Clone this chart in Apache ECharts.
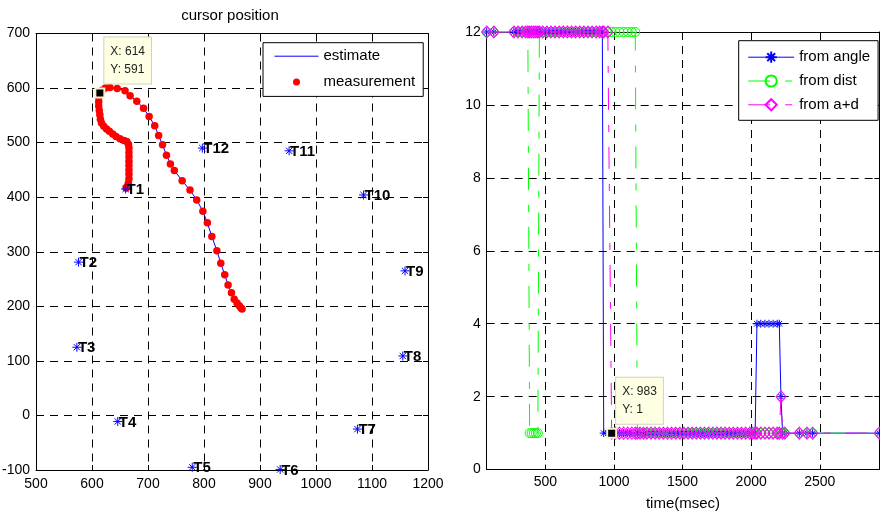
<!DOCTYPE html>
<html>
<head>
<meta charset="utf-8">
<script src="https://cdn.jsdelivr.net/npm/echarts@6/dist/echarts.min.js"></script>
<style>
  html, body { margin: 0; padding: 0; background: #fff; }
  #chart { width: 880px; height: 513px; }
</style>
</head>
<body>
<div id="chart"></div>
<script>
// ---- left panel: cursor position ----
const targetNames = ['T1', 'T2', 'T3', 'T4', 'T5', 'T6', 'T7', 'T8', 'T9', 'T10', 'T11', 'T12'];
const targetX = [660, 576, 573, 646, 779, 936, 1074, 1155, 1159, 1085, 952, 797];
const targetY = [415, 281, 125, -11, -95, -99, -25, 109, 265, 404, 485, 490];

// cursor track (T1 -> up to the datatip -> down the curve)
const trackX = [661, 663, 665, 666, 666, 666, 666, 666, 666, 666, 666,
                665, 662, 657, 650, 643, 637, 631, 626, 621, 617, 615, 614, 613, 612, 612, 612, 613,
                618, 624, 632, 645, 659, 668, 680, 692, 702, 712, 719, 726, 733, 740, 747,
                761, 775, 787, 798, 806, 814, 823, 830, 837, 843, 849, 854, 859, 863, 866, 868];
const trackY = [417, 420, 426, 434, 442, 450, 458, 466, 474, 482, 490,
                497, 502, 504, 507, 511, 516, 521, 525, 530, 536, 543, 551, 559, 567, 575, 583, 591,
                596, 600, 601, 599, 595, 586, 576, 563, 548, 531, 513, 496, 477, 461, 449,
                430, 413, 395, 374, 353, 328, 302, 279, 258, 239, 225, 213, 206, 201, 197, 195];

const leftTip = [614, 591];

// ---- right panel: target index over time ----
const timeMs = [72, 124,
  270, 300, 330, 355, 372, 385, 400, 415, 430, 445, 456, 480, 510, 540, 570, 600, 630, 660,
  690, 720, 750, 780, 810, 840, 870, 895, 915, 925, 955, 983, 1010, 1040, 1070, 1100, 1130, 1155,
  1170, 1190, 1215, 1240, 1270, 1300, 1330, 1360, 1390, 1420, 1450, 1480, 1510, 1540, 1570, 1600,
  1630, 1660, 1690, 1720, 1750, 1780, 1810, 1840, 1870, 1900, 1930, 1960, 1990, 2010, 2029, 2042,
  2070, 2100, 2130, 2160, 2190, 2205, 2217, 2229, 2245, 2351, 2407, 2448, 2934];

const fromAngle = [
  12, 12, 12, 12, 12, 12, 12, 12, 12, 12,
  12, 12, 12, 12, 12, 12, 12, 12, 12, 12,
  12, 12, 12, 12, 12, 12, 12, 12, 12, 1,
  1, 1, 1, 1, 1, 1, 1, 1, 1, 1,
  1, 1, 1, 1, 1, 1, 1, 1, 1, 1,
  1, 1, 1, 1, 1, 1, 1, 1, 1, 1,
  1, 1, 1, 1, 1, 1, 1, 1, 1, 4,
  4, 4, 4, 4, 4, 4, 2, 1, 1, 1,
  1, 1, 1];
const fromDist = [
  12, 12, 12, 12, 12, 12, 12, 1, 1, 1,
  1, 1, 12, 12, 12, 12, 12, 12, 12, 12,
  12, 12, 12, 12, 12, 12, 12, 12, 12, 12,
  12, 12, 12, 12, 12, 12, 12, 12, 1, 1,
  1, 1, 1, 1, 1, 1, 1, 1, 1, 1,
  1, 1, 1, 1, 1, 1, 1, 1, 1, 1,
  1, 1, 1, 1, 1, 1, 1, 1, 1, 1,
  1, 1, 1, 1, 1, 1, 1, 1, 1, 1,
  1, 1, 1];
const fromAD = [
  12, 12, 12, 12, 12, 12, 12, 12, 12, 12,
  12, 12, 12, 12, 12, 12, 12, 12, 12, 12,
  12, 12, 12, 12, 12, 12, 12, 12, 12, 12,
  12, 1, 1, 1, 1, 1, 1, 1, 1, 1,
  1, 1, 1, 1, 1, 1, 1, 1, 1, 1,
  1, 1, 1, 1, 1, 1, 1, 1, 1, 1,
  1, 1, 1, 1, 1, 1, 1, 1, 1, 1,
  1, 1, 1, 1, 1, 1, 2, 1, 1, 1,
  1, 1, 1];

const timeTicks = [500, 1000, 1500, 2000, 2500];
const rightTip = [983, 1];

const FONT = '"Liberation Sans", Arial, Helvetica, sans-serif';
const ASTERISK = 'path://M5,0L5,10M0,5L10,5M1.5,1.5L8.5,8.5M8.5,1.5L1.5,8.5';
const DASHDOT = [22, 15, 7, 15];

function makeAxis(gridIndex, position, min, max, interval, main) {
  return {
    type: 'value',
    gridIndex: gridIndex,
    position: position,
    min: min,
    max: max,
    interval: interval,
    axisLine: { show: true, onZero: false, lineStyle: { color: '#000', width: 1 } },
    axisTick: { show: true, inside: true, length: 5, lineStyle: { color: '#000' } },
    axisLabel: {
      show: main, color: '#000', fontSize: 14, fontFamily: FONT, margin: 6,
      formatter: v => String(v)
    },
    splitLine: main ? { show: true, lineStyle: { color: '#000', width: 1, type: [8, 6] } } : { show: false }
  };
}

function tipSeries(xIdx, yIdx, tip) {
  return {
    type: 'scatter',
    xAxisIndex: xIdx,
    yAxisIndex: yIdx,
    data: [tip],
    symbol: 'rect',
    symbolSize: 9,
    z: 10,
    itemStyle: { color: '#000', borderColor: '#f3f3cf', borderWidth: 2, opacity: 1 },
    label: {
      show: true,
      formatter: 'X: ' + tip[0] + '\nY: ' + tip[1],
      position: [10, -50],
      align: 'left',
      verticalAlign: 'top',
      fontSize: 12,
      fontFamily: FONT,
      color: '#222',
      lineHeight: 18,
      padding: [5, 6],
      backgroundColor: '#ffffe3',
      borderColor: '#d2d2bc',
      borderWidth: 1
    }
  };
}

const chart = echarts.init(document.getElementById('chart'), null, { renderer: 'canvas' });

const leftX = makeAxis(0, 'bottom', 500, 1200, 100, true);
leftX.axisLabel.margin = 7;
const leftXTop = makeAxis(0, 'top', 500, 1200, 100, false);
const leftY = makeAxis(0, 'left', -100, 700, 100, true);
const leftYRight = makeAxis(0, 'right', -100, 700, 100, false);

const rightX = makeAxis(1, 'bottom', timeMs[0], timeMs[timeMs.length - 1], undefined, true);
rightX.axisTick.customValues = timeTicks;
rightX.axisLabel.customValues = timeTicks;
rightX.axisLabel.margin = 6;
rightX.name = 'time(msec)';
rightX.nameLocation = 'middle';
rightX.nameGap = 27;
rightX.nameTextStyle = { color: '#000', fontSize: 15, fontFamily: FONT };
const rightXTop = makeAxis(1, 'top', timeMs[0], timeMs[timeMs.length - 1], undefined, false);
rightXTop.axisTick.customValues = timeTicks;
const rightY = makeAxis(1, 'left', 0, 12, 2, true);
const rightYRight = makeAxis(1, 'right', 0, 12, 2, false);

const option = {
  animation: false,
  backgroundColor: '#fff',
  textStyle: { fontFamily: FONT },
  title: {
    text: 'cursor position',
    left: 230,
    top: 8,
    padding: 0,
    textAlign: 'center',
    textStyle: { fontSize: 15, fontWeight: 'normal', color: '#000', fontFamily: FONT }
  },
  grid: [
    { left: 36, top: 33.5, width: 392, height: 436.5, outerBoundsMode: 'none' },
    { left: 486.7, top: 32, width: 392.6, height: 437.6, outerBoundsMode: 'none' }
  ],
  xAxis: [leftX, leftXTop, rightX, rightXTop],
  yAxis: [leftY, leftYRight, rightY, rightYRight],
  legend: [
    {
      data: [{ name: 'estimate', itemStyle: { opacity: 0 }, lineStyle: { width: 1 } }, 'measurement'],
      orient: 'vertical',
      left: 263,
      top: 42.7,
      itemWidth: 44,
      itemHeight: 7,
      itemGap: 10.7,
      padding: [6, 8, 7, 11],
      backgroundColor: '#fff',
      borderColor: '#000',
      borderWidth: 1,
      selectedMode: false,
      textStyle: { color: '#000', fontSize: 15, fontFamily: FONT }
    },
    {
      data: [
        { name: 'from angle', lineStyle: { width: 1 } },
        { name: 'from dist', lineStyle: { width: 1 } },
        { name: 'from a+d', lineStyle: { width: 1 } }
      ],
      orient: 'vertical',
      left: 738.7,
      top: 40.7,
      itemWidth: 46,
      itemHeight: 14,
      itemGap: 8.8,
      padding: [9, 8, 8, 9],
      backgroundColor: '#fff',
      borderColor: '#000',
      borderWidth: 1,
      selectedMode: false,
      textStyle: { color: '#000', fontSize: 15, fontFamily: FONT }
    }
  ],
  series: [
    {
      name: 'estimate',
      type: 'line',
      xAxisIndex: 0,
      yAxisIndex: 0,
      data: trackX.map((x, i) => [x, trackY[i]]),
      symbol: 'none',
      lineStyle: { color: '#0000ff', width: 1 },
      itemStyle: { color: '#0000ff' },
      z: 2
    },
    {
      name: 'measurement',
      type: 'scatter',
      xAxisIndex: 0,
      yAxisIndex: 0,
      data: trackX.map((x, i) => [x, trackY[i]]),
      symbol: 'circle',
      symbolSize: 7.5,
      itemStyle: { color: '#ff0000', opacity: 1 },
      z: 3
    },
    {
      name: 'targets',
      type: 'scatter',
      xAxisIndex: 0,
      yAxisIndex: 0,
      data: targetX.map((x, i) => ({ name: targetNames[i], value: [x, targetY[i]] })),
      symbol: ASTERISK,
      symbolSize: 9,
      itemStyle: { color: 'transparent', borderColor: '#0000ff', borderWidth: 1, opacity: 1 },
      label: {
        show: true,
        formatter: '{b}',
        position: ['50%', '50%'],
        align: 'left',
        verticalAlign: 'middle',
        offset: [1, 1],
        fontSize: 15,
        fontWeight: 'bold',
        fontFamily: FONT,
        color: '#000'
      },
      z: 4
    },
    tipSeries(0, 0, leftTip),
    {
      name: 'from angle',
      type: 'line',
      xAxisIndex: 2,
      yAxisIndex: 2,
      data: timeMs.map((t, i) => [t, fromAngle[i]]),
      symbol: ASTERISK,
      symbolSize: 8,
      showAllSymbol: true,
      itemStyle: { color: 'transparent', borderColor: '#0000ff', borderWidth: 1 },
      lineStyle: { color: '#0000ff', width: 1 },
      z: 2
    },
    {
      name: 'from dist',
      type: 'line',
      xAxisIndex: 2,
      yAxisIndex: 2,
      data: timeMs.map((t, i) => [t, fromDist[i]]),
      symbol: 'circle',
      symbolSize: 9,
      showAllSymbol: true,
      itemStyle: { color: 'transparent', borderColor: '#00ff00', borderWidth: 1 },
      lineStyle: { color: '#00ff00', width: 1, type: DASHDOT },
      z: 3
    },
    {
      name: 'from a+d',
      type: 'line',
      xAxisIndex: 2,
      yAxisIndex: 2,
      data: timeMs.map((t, i) => [t, fromAD[i]]),
      symbol: 'diamond',
      symbolSize: [10, 12],
      showAllSymbol: true,
      itemStyle: { color: 'transparent', borderColor: '#ff00ff', borderWidth: 1 },
      lineStyle: { color: '#ff00ff', width: 1, type: DASHDOT },
      z: 4
    },
    tipSeries(2, 2, rightTip)
  ]
};

chart.setOption(option);
</script>
</body>
</html>
